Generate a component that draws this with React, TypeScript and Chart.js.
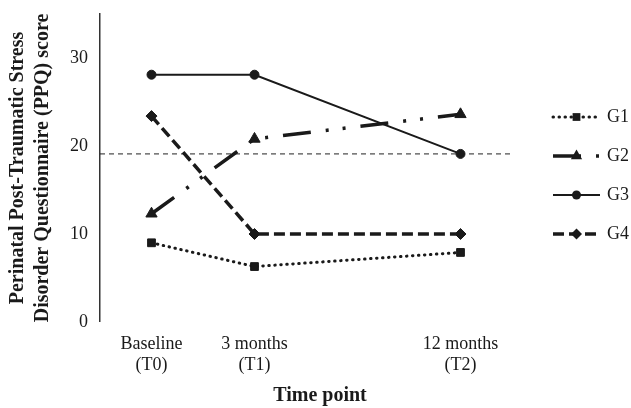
import React, { useEffect, useRef } from "react";
import { Chart, registerables } from "chart.js";

Chart.register(...registerables);

// ---- Data ----
const categories: (string | string[])[] = [
  ["Baseline", "(T0)"],
  ["3 months", "(T1)"],
  "",
  ["12 months", "(T2)"],
];
const g1: (number | null)[] = [9.0, 6.3, null, 7.9];
const g2: (number | null)[] = [12.3, 20.8, null, 23.6];
const g3: (number | null)[] = [28.1, 28.1, null, 19.1];
const g4: (number | null)[] = [23.4, 10.0, null, 10.0];
const seriesNames = ["G1", "G2", "G3", "G4"];
const thresholdValue = 19.1;
const yMin = 0;
const yMax = 35;
const yStep = 10;
const yTitle = ["Perinatal Post-Traumatic Stress", "Disorder Questionnaire (PPQ) score"];
const xTitle = "Time point";

const INK = "#1a1a1a";
const SERIF = "'Liberation Serif', 'Times New Roman', serif";

const styles = [
  { dash: [0.5, 5.5], width: 3, cap: "round", point: "rect", radius: 5.5 },
  { dash: [28, 15, 3, 14, 3, 15], width: 3.5, cap: "butt", point: "triangle", radius: 6.5 },
  { dash: [], width: 2, cap: "butt", point: "circle", radius: 4.5 },
  { dash: [11, 5], width: 3.5, cap: "butt", point: "rectRot", radius: 5.5 },
];

function drawMarker(ctx: CanvasRenderingContext2D, kind: string, x: number, y: number, r: number) {
  ctx.save();
  ctx.setLineDash([]);
  ctx.fillStyle = INK;
  ctx.beginPath();
  if (kind === "rect") {
    const s = Math.SQRT1_2 * r;
    ctx.rect(x - s, y - s, 2 * s, 2 * s);
  } else if (kind === "triangle") {
    ctx.moveTo(x, y - r);
    ctx.lineTo(x + r * 0.866, y + r * 0.5);
    ctx.lineTo(x - r * 0.866, y + r * 0.5);
    ctx.closePath();
  } else if (kind === "circle") {
    ctx.arc(x, y, r, 0, Math.PI * 2);
  } else {
    ctx.moveTo(x, y - r);
    ctx.lineTo(x + r, y);
    ctx.lineTo(x, y + r);
    ctx.lineTo(x - r, y);
    ctx.closePath();
  }
  ctx.fill();
  ctx.restore();
}

const thresholdPlugin = {
  id: "thresholdLine",
  beforeDatasetsDraw(chart: any) {
    const { ctx, chartArea, scales } = chart;
    const y = scales.y.getPixelForValue(thresholdValue);
    ctx.save();
    ctx.strokeStyle = "#222";
    ctx.lineWidth = 1;
    ctx.setLineDash([5, 4]);
    ctx.beginPath();
    ctx.moveTo(chartArea.left, y);
    ctx.lineTo(chartArea.right + 1, y);
    ctx.stroke();
    ctx.restore();
  },
};

const legendPlugin = {
  id: "customLegend",
  afterDraw(chart: any) {
    const { ctx, chartArea } = chart;
    const x0 = chartArea.right + 41;
    const x1 = x0 + 47;
    ctx.save();
    chart.data.datasets.forEach((ds: any, i: number) => {
      const st = styles[i];
      const y = 117 + i * 39;
      ctx.strokeStyle = INK;
      ctx.lineWidth = st.width;
      ctx.lineCap = st.cap as CanvasLineCap;
      ctx.setLineDash(st.dash);
      ctx.beginPath();
      ctx.moveTo(x0, y);
      ctx.lineTo(x1, y);
      ctx.stroke();
      drawMarker(ctx, st.point, (x0 + x1) / 2, y, st.radius);
      ctx.setLineDash([]);
      ctx.fillStyle = INK;
      ctx.font = `18px ${SERIF}`;
      ctx.textAlign = "left";
      ctx.textBaseline = "middle";
      ctx.fillText(ds.label, x1 + 7, y);
    });
    // x-axis title
    ctx.font = `bold 20px ${SERIF}`;
    ctx.textAlign = "center";
    ctx.textBaseline = "middle";
    ctx.fillStyle = INK;
    ctx.fillText(xTitle, 320, 396);
    ctx.restore();
  },
};

export default function App() {
  const ref = useRef<HTMLCanvasElement | null>(null);

  useEffect(() => {
    document.body.style.margin = "0";
    const seriesData = [g1, g2, g3, g4];
    const chart = new Chart(ref.current!, {
      type: "line",
      data: {
        labels: categories,
        datasets: seriesData.map((d, i) => ({
          label: seriesNames[i],
          data: d,
          borderColor: INK,
          backgroundColor: INK,
          borderWidth: styles[i].width,
          borderDash: styles[i].dash,
          borderCapStyle: styles[i].cap as CanvasLineCap,
          pointStyle: styles[i].point as any,
          pointRadius: styles[i].radius,
          pointBorderWidth: 1,
          pointBorderColor: INK,
          pointBackgroundColor: INK,
          spanGaps: true,
          tension: 0,
          fill: false,
        })),
      },
      options: {
        animation: false,
        responsive: true,
        maintainAspectRatio: false,
        layout: { padding: { top: 14, right: 119, bottom: 20.9, left: 5 } },
        plugins: { legend: { display: false }, tooltip: { enabled: false } },
        scales: {
          x: {
            type: "category",
            offset: true,
            grid: { display: false, drawTicks: false },
            border: { display: false },
            ticks: {
              color: INK,
              font: { family: SERIF, size: 18, lineHeight: 1.17 },
              padding: 11.5,
              maxRotation: 0,
              autoSkip: false,
            },
          },
          y: {
            min: yMin,
            max: yMax,
            grid: { display: false, drawTicks: false },
            border: { display: true, color: "#333", width: 1.5 },
            afterFit: (scale: any) => {
              scale.paddingTop = 0;
              scale.paddingBottom = 0;
            },
            ticks: {
              stepSize: yStep,
              includeBounds: false,
              color: INK,
              font: { family: SERIF, size: 18 },
              padding: 12,
            },
            title: {
              display: true,
              text: yTitle,
              color: INK,
              font: { family: SERIF, size: 20, weight: "bold", lineHeight: 1.25 },
              padding: { top: 0, bottom: 3 },
            },
          },
        },
      },
      plugins: [thresholdPlugin, legendPlugin],
    });
    return () => chart.destroy();
  }, []);

  return (
    <div style={{ position: "relative", width: 631, height: 408, background: "#fff" }}>
      <canvas ref={ref} />
    </div>
  );
}
